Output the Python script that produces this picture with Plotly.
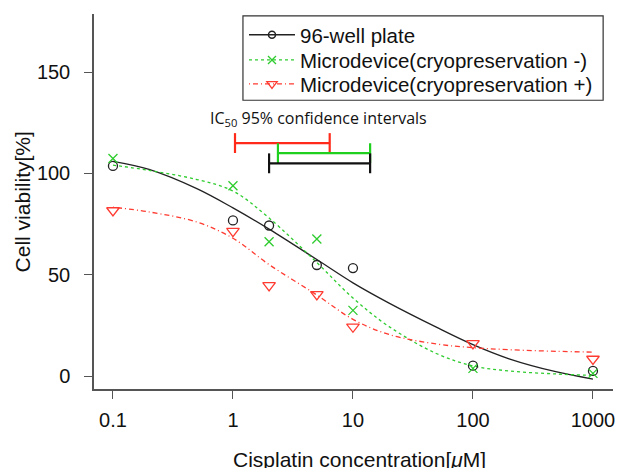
import plotly.graph_objects as go

# ---- data ----
conc = [0.1, 1, 2, 5, 10, 100, 1000]
plate96 = [103.7, 76.8, 74.3, 54.8, 53.3, 5.1, 2.5]
micro_minus = [107.4, 93.9, 66.3, 67.6, 32.4, 3.8, 1.3]
micro_plus = [81.7, 71.5, 44.7, 40.3, 24.3, 16.1, 8.4]

curve_x = [0.1, 0.2, 0.5, 1, 2, 5, 10, 20, 50, 100, 200, 500, 1000]
curve_plate96 = [106.0, 102.0, 92.5, 83.0, 72.5, 57.5, 46.0, 36.0, 24.0, 15.5, 8.5, 2.0, -1.5]
curve_minus = [104.1, 101.5, 97.0, 91.3, 78.0, 56.0, 38.5, 24.4, 11.0, 5.0, 2.5, 1.0, 0.3]
curve_plus = [83.3, 81.0, 76.0, 68.0, 55.0, 40.0, 28.0, 20.5, 15.8, 14.0, 13.0, 12.2, 11.8]

# IC50 95% confidence intervals (lower, upper) and their drawing level
ci_lower = [1.04, 2.37, 2.0]
ci_upper = [6.4, 13.9, 13.9]
ci_level = [115, 110, 105]

names = ["96-well plate", "Microdevice(cryopreservation -)", "Microdevice(cryopreservation +)"]
tickvals_x = [0.1, 1, 10, 100, 1000]
ticktext_x = ["0.1", "1", "10", "100", "1000"]
tickvals_y = [0, 50, 100, 150]

BLACK = "#222222"
GREEN = "#2ecc2e"
RED = "#ff3a30"
CI_COLORS = ["#ff2a1a", "#1fd01f", "#111111"]

fig = go.Figure()

# fitted curves
fig.add_trace(go.Scatter(x=curve_x, y=curve_plate96, mode="lines", showlegend=False,
                         line=dict(color=BLACK, width=1.3, shape="spline")))
fig.add_trace(go.Scatter(x=curve_x, y=curve_minus, mode="lines", showlegend=False,
                         line=dict(color=GREEN, width=1.3, dash="3px,3px", shape="spline")))
fig.add_trace(go.Scatter(x=curve_x, y=curve_plus, mode="lines", showlegend=False,
                         line=dict(color=RED, width=1.3, dash="1px,3px,5px,3px", shape="spline")))

# points
fig.add_trace(go.Scatter(x=conc, y=plate96, mode="markers", showlegend=False,
                         marker=dict(symbol="circle-open", size=9, color=BLACK, line=dict(width=1.3))))
fig.add_trace(go.Scatter(x=conc, y=micro_minus, mode="markers", showlegend=False,
                         marker=dict(symbol="x-thin-open", size=9, color=GREEN, line=dict(width=1.3, color=GREEN))))
fig.add_trace(go.Scatter(x=conc, y=micro_plus, mode="markers", showlegend=False,
                         marker=dict(symbol="triangle-down-open", size=11, color=RED, line=dict(width=1.3))))

# CI bars
for lo, hi, lv, c in zip(ci_lower, ci_upper, ci_level, CI_COLORS):
    fig.add_trace(go.Scatter(x=[lo, hi], y=[lv, lv], mode="lines", showlegend=False,
                             line=dict(color=c, width=2.2),
                             error_y=dict(type="constant", value=4.9, width=0, thickness=2.2, color=c)))

# legend entries (one legend per entry so row spacing can follow the reference)
fig.add_trace(go.Scatter(x=[None], y=[None], name=names[0], mode="lines+markers", legend="legend",
                         line=dict(color=BLACK, width=1.5),
                         marker=dict(symbol="circle-open", size=7, color=BLACK, line=dict(width=1.5))))
fig.add_trace(go.Scatter(x=[None], y=[None], name=names[1], mode="lines+markers", legend="legend2",
                         line=dict(color=GREEN, width=1.3, dash="3px,3px"),
                         marker=dict(symbol="x-thin-open", size=8, color=GREEN, line=dict(width=1.3, color=GREEN))))
fig.add_trace(go.Scatter(x=[None], y=[None], name=names[2], mode="lines+markers", legend="legend3",
                         line=dict(color=RED, width=1.3, dash="1px,3px,5px,3px"),
                         marker=dict(symbol="triangle-down-open", size=9, color=RED, line=dict(width=1.3))))

# frame around the three legend rows
fig.add_shape(type="rect", xref="paper", yref="paper", x0=0.287, x1=0.981, y0=0.770, y1=0.995,
              line=dict(color="#333333", width=1.2), fillcolor="white", layer="above")

fig.add_annotation(x=-0.208, y=127, xref="x", yref="y", showarrow=False,
                   text="IC<sub>50</sub> 95% confidence intervals",
                   font=dict(family="Open Sans", size=16, color="#111111"),
                   xanchor="left", yanchor="middle")

# axis titles
fig.add_annotation(x=0.512, y=-0.187, xref="paper", yref="paper", showarrow=False,
                   text="Cisplatin concentration[<i>μ</i>M]",
                   font=dict(family="Liberation Sans, Arial", size=21, color="#111111"),
                   xanchor="center", yanchor="middle")
fig.add_annotation(x=-0.137, y=0.5, xref="paper", yref="paper", showarrow=False,
                   text="Cell viability[%]", textangle=-90,
                   font=dict(family="Liberation Sans, Arial", size=21, color="#111111"),
                   xanchor="center", yanchor="middle")

axis_font = dict(family="Liberation Sans, Arial", size=20, color="#111111")
legend_style = dict(xanchor="left", yanchor="middle", borderwidth=0, bgcolor="rgba(0,0,0,0)",
                    font=dict(family="Liberation Sans, Arial", size=20.5, color="#111111"),
                    itemwidth=46)

fig.update_layout(
    width=618, height=468,
    margin=dict(l=94, r=5, t=14, b=79, autoexpand=False),
    paper_bgcolor="white", plot_bgcolor="white",
    font=axis_font,
    legend=dict(x=0.289, y=0.944, **legend_style),
    legend2=dict(x=0.289, y=0.877, **legend_style),
    legend3=dict(x=0.289, y=0.813, **legend_style),
    xaxis=dict(type="log", range=[-1.158, 3.167], tickvals=tickvals_x, ticktext=ticktext_x,
               showgrid=False, zeroline=False, showline=True, linecolor="#555555", linewidth=1.5,
               ticks="outside", ticklen=8, tickwidth=1.2, tickcolor="#555555",
               ticklabelstandoff=4, automargin=False),
    yaxis=dict(range=[-6.4, 178.7], tickvals=tickvals_y,
               showgrid=False, zeroline=False, showline=True, linecolor="#555555", linewidth=1.5,
               ticks="outside", ticklen=8, tickwidth=1.2, tickcolor="#555555",
               ticklabelstandoff=10, automargin=False),
)

# remove the page's default 8px body margin so the figure fills the window exactly
fig.write_html("out.html", config={"displayModeBar": False},
               post_script="document.body.style.margin='0';")
